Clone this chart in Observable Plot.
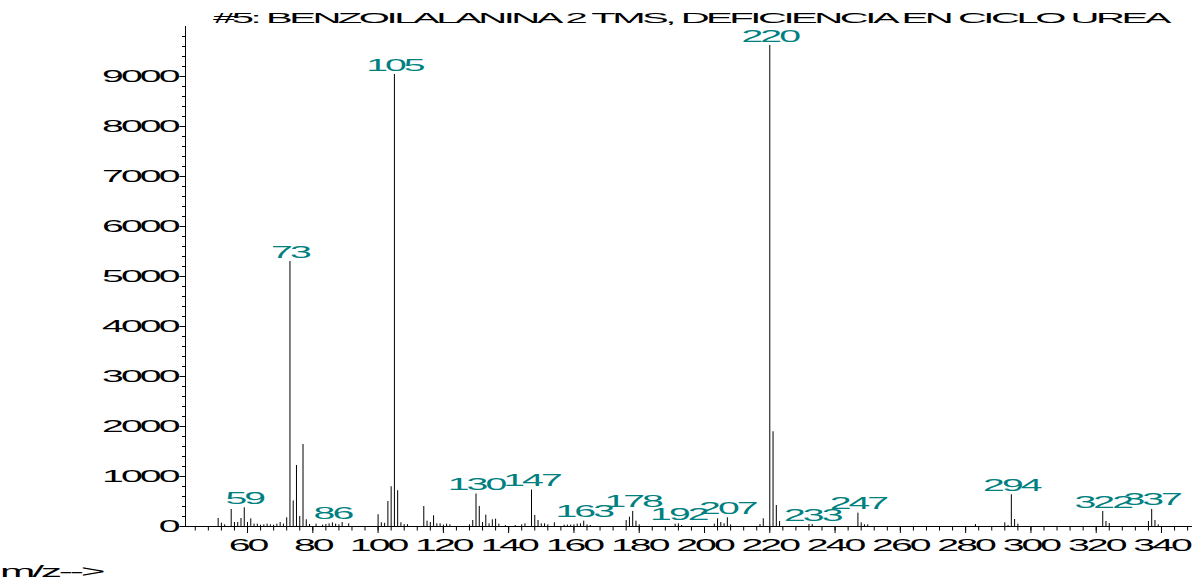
<!DOCTYPE html>
<html><head><meta charset="utf-8">
<script src="https://cdn.jsdelivr.net/npm/d3@7"></script>
<script src="https://cdn.jsdelivr.net/npm/@observablehq/plot@0.6"></script>
<style>
body{margin:0;background:#fff;font-family:"Liberation Sans",Arial,sans-serif;}
#wrap{width:1202px;height:582px;position:relative;overflow:hidden;background:#fff}
.hdr{position:relative;height:25px}
.hdr span{position:absolute;left:213px;top:10px;font-size:15px;line-height:15px;white-space:nowrap;transform-origin:0 0;letter-spacing:-1.3px;color:#000}
#chart{height:532px}
.cap{position:relative;height:25px}
.cap span{position:absolute;left:0;top:6.5px;font-size:16px;line-height:16px;white-space:nowrap;transform-origin:0 0;letter-spacing:-1.2px;transform:scaleX(2.65);color:#000}
</style></head>
<body><div id="wrap">
<div class="hdr"><span id="title">#5: BENZOILALANINA 2 TMS, DEFICIENCIA EN CICLO UREA</span></div>
<div id="chart"></div>
<div class="cap"><span>m/z--&gt;</span></div>
</div>
<script>
const mz = [51,52,53,55,56,57,58,59,60,61,62,63,64,65,66,67,68,69,70,71,72,73,74,75,76,77,78,79,81,83,84,85,86,87,88,89,91,
 100,101,102,103,104,105,106,107,108,109,114,115,116,117,118,119,120,121,122,128,129,130,131,132,133,134,135,136,137,139,142,144,145,
 147,148,149,150,151,152,154,157,158,159,160,161,162,163,164,165,176,177,178,179,180,191,192,193,203,204,205,206,207,208,
 217,218,220,221,222,223,232,233,247,248,249,250,283,292,293,294,295,296,322,323,324,336,337,338,339];
const abundance = [160,67,33,340,80,80,160,374,80,153,47,47,27,33,47,33,27,47,80,47,174,5300,510,1220,200,1640,134,40,47,27,40,53,73,47,33,80,53,
 235,75,63,500,795,9040,715,75,37,37,400,107,80,214,53,53,27,47,33,33,120,650,401,80,227,53,134,147,47,20,20,33,53,
 730,220,120,53,53,33,73,27,27,27,33,47,53,107,33,20,120,187,301,107,33,47,53,20,47,153,80,53,174,33,
 40,154,9620,1895,420,100,40,40,267,73,33,33,40,73,20,634,140,47,300,100,60,100,341,120,33];
const labeledIons = [59,73,86,105,130,147,163,178,192,207,220,233,247,294,322,337];
const xMajorTicks = d3.range(60, 341, 20);
const xMinorTicks = d3.range(44, 350, 4);
const yMajorTicks = d3.range(0, 9001, 1000);
const yMinorTicks = d3.range(0, 10000, 200);

const data = mz.map((m, i) => ({mz: m, ab: abundance[i]}));
const labels = data.filter(d => labeledIons.includes(d.mz));

const chart = Plot.plot({
  width: 1202, height: 532,
  marginTop: 1, marginBottom: 31, marginLeft: 185, marginRight: 10,
  style: {fontFamily: "Liberation Sans, Arial, sans-serif", fontSize: "16px", background: "#fff", color: "#000"},
  x: {domain: [41, 349.5], label: null},
  y: {domain: [0, 10000], label: null},
  marks: [
    Plot.ruleX(data, {x: "mz", y1: 0, y2: "ab", stroke: "#000", strokeWidth: 1}),
    Plot.ruleY([0], {stroke: "#000"}),
    Plot.ruleX([41], {stroke: "#000"}),
    Plot.axisX({ticks: xMinorTicks, tickSize: 4.5, tickFormat: () => "", label: null}),
    Plot.axisX({ticks: xMajorTicks, tickSize: 7, tickPadding: 6, tickFormat: d => String(d), fontSize: 16, label: null}),
    Plot.axisY({ticks: yMinorTicks, tickSize: 3, tickFormat: () => "", label: null}),
    Plot.axisY({ticks: yMajorTicks, tickSize: 5.5, tickPadding: 2.5, tickFormat: d => String(d), fontSize: 16, label: null}),
    Plot.text(labels, {x: "mz", y: "ab", text: d => String(d.mz), dy: -4, lineAnchor: "bottom", fill: "#008080", fontSize: 16})
  ]
});
document.getElementById("chart").appendChild(chart);

chart.querySelectorAll("text").forEach(t => {
  const tr = t.getAttribute("transform") || "";
  const x = parseFloat(t.getAttribute("x")) || 0;
  t.style.letterSpacing = "-1.2px";
  t.setAttribute("transform", `${tr} translate(${x},0) scale(2.45,1) translate(${-x},0)`);
});

const title = document.getElementById("title");
const w = title.getBoundingClientRect().width;
title.style.transform = `scaleX(${955 / w})`;
</script>
</body></html>
